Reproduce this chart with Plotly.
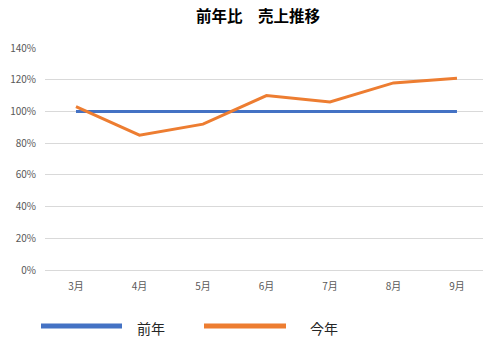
import plotly.graph_objects as go

months = ["3月", "4月", "5月", "6月", "7月", "8月", "9月"]
prev_year = [1.00, 1.00, 1.00, 1.00, 1.00, 1.00, 1.00]
this_year = [1.03, 0.85, 0.92, 1.10, 1.06, 1.18, 1.21]
y_ticks = [0, 0.2, 0.4, 0.6, 0.8, 1.0, 1.2, 1.4]
names = ["前年", "今年"]
colors = ["#4472C4", "#ED7D31"]

FONT = "Noto Sans CJK JP"

fig = go.Figure()
for name, vals, c in zip(names, [prev_year, this_year], colors):
    fig.add_trace(go.Scatter(x=months, y=vals, mode="lines", name=name,
                             line=dict(color=c, width=3), showlegend=False))

# custom legend (wide line swatches like the reference)
legend_items = [(41, 122, 135), (204, 286, 308)]
for (x0, x1, tx), name, c in zip(legend_items, names, colors):
    fig.add_shape(type="line", xref="paper", yref="paper",
                  x0=(x0 - 45) / 438, x1=(x1 - 45) / 438,
                  y0=(270 - 326) / 222, y1=(270 - 326) / 222,
                  line=dict(color=c, width=5))
    fig.add_annotation(text=name, xref="paper", yref="paper",
                       x=(tx - 45) / 438, y=(270 - 328) / 222,
                       xanchor="left", yanchor="middle", showarrow=False,
                       font=dict(family=FONT, size=14, color="#262626"))

fig.update_layout(
    width=501, height=352,
    margin=dict(l=45, r=18, t=48, b=82),
    paper_bgcolor="white", plot_bgcolor="white",
    title=dict(text="<b>前年比　売上推移</b>", x=0.515, xanchor="center",
               y=1 - 17 / 352, yanchor="middle",
               font=dict(family=FONT, size=15.5, color="#000000")),
    font=dict(family=FONT),
)
fig.update_xaxes(type="category", range=[-0.488, 6.41], showgrid=False,
                 showline=False, ticks="", zeroline=False, ticklabelstandoff=9,
                 automargin=False,
                 tickfont=dict(family=FONT, size=10, color="#595959"))
fig.update_yaxes(range=[0, 1.4], tickvals=y_ticks, tickformat=".0%",
                 showgrid=True, gridcolor="#D9D9D9", gridwidth=1,
                 zeroline=True, zerolinecolor="#D9D9D9", zerolinewidth=1,
                 showline=False, ticks="", ticklen=0, ticklabelstandoff=8,
                 automargin=False,
                 tickfont=dict(family=FONT, size=10, color="#595959"))

fig.write_html("out.html")
